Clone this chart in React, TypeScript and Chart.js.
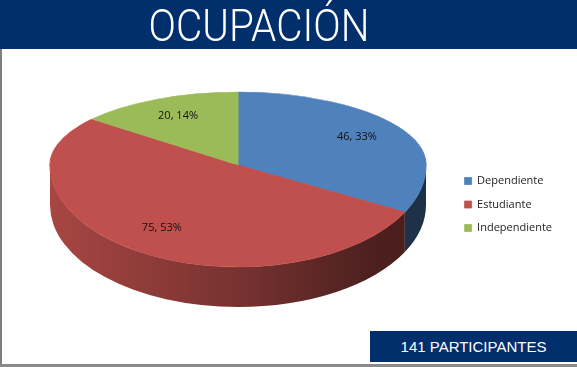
import { useEffect, useRef } from "react";
import { Chart, registerables } from "chart.js";

Chart.register(...registerables);

// ---- data ----
const categories = ["Dependiente", "Estudiante", "Independiente"];
const counts = [46, 75, 20];
const sliceColors = ["#4F81BD", "#C0504D", "#9BBB59"];
const titleText = "OCUPACIÓN";
const footerText = "141 PARTICIPANTES";

// ---- layout / style ----
const W = 577;
const H = 367;
const NAVY = "#002F6C";
const PIE = { cx: 238, cy: 165, rx: 188, ryTop: 73, ryBot: 102, depth: 40, labelR: 0.74 };
const LABEL_FONT = "11px 'Open Sans', 'DejaVu Sans', sans-serif";

function shade(hex: string, f: number): string {
  const n = parseInt(hex.slice(1), 16);
  const r = (n >> 16) & 255;
  const g = (n >> 8) & 255;
  const b = n & 255;
  return `rgb(${Math.round(r * f)},${Math.round(g * f)},${Math.round(b * f)})`;
}

const pie3d = {
  id: "pie3d",
  beforeDatasetsDraw(chart: any) {
    const meta = chart.getDatasetMeta(0);
    const arcs = meta.data;
    if (!arcs.length) return;
    const ctx: CanvasRenderingContext2D = chart.ctx;
    const { x: ox, y: oy, outerRadius: R } = arcs[0].getProps(["x", "y", "outerRadius"], true);

    // side (front half only)
    arcs.forEach((arc: any) => {
      const { startAngle: s, endAngle: e } = arc.getProps(["startAngle", "endAngle"], true);
      const color = arc.options.backgroundColor as string;
      const candidates = [
        [s, e],
        [s - 2 * Math.PI, e - 2 * Math.PI],
        [s + 2 * Math.PI, e + 2 * Math.PI],
      ];
      for (const [a, b] of candidates) {
        const lo = Math.max(a, 0);
        const hi = Math.min(b, Math.PI);
        if (hi <= lo) continue;
        const grad = ctx.createLinearGradient(PIE.cx - PIE.rx, 0, PIE.cx + PIE.rx, 0);
        grad.addColorStop(0, shade(color, 0.87));
        grad.addColorStop(0.5, shade(color, 0.62));
        grad.addColorStop(0.85, shade(color, 0.4));
        grad.addColorStop(1, shade(color, 0.37));
        ctx.save();
        ctx.beginPath();
        ctx.ellipse(PIE.cx, PIE.cy, PIE.rx, PIE.ryBot, 0, lo, hi, false);
        ctx.ellipse(PIE.cx, PIE.cy + PIE.depth, PIE.rx, PIE.ryBot, 0, hi, lo, true);
        ctx.closePath();
        ctx.fillStyle = grad;
        ctx.fill();
        ctx.restore();
      }
    });

    // top face: far half and near half with different vertical squash
    const halves = [
      { y0: 0, y1: PIE.cy + 0.5, ry: PIE.ryTop },
      { y0: PIE.cy - 0.5, y1: H, ry: PIE.ryBot },
    ];
    for (const h of halves) {
      ctx.save();
      ctx.beginPath();
      ctx.rect(0, h.y0, W, h.y1 - h.y0);
      ctx.clip();
      ctx.translate(PIE.cx, PIE.cy);
      ctx.scale(PIE.rx / R, h.ry / R);
      ctx.translate(-ox, -oy);
      arcs.forEach((arc: any) => arc.draw(ctx));
      ctx.restore();
    }
    return false;
  },
  afterDraw(chart: any) {
    const meta = chart.getDatasetMeta(0);
    const arcs = meta.data;
    if (!arcs.length) return;
    const ctx: CanvasRenderingContext2D = chart.ctx;
    const values: number[] = chart.data.datasets[0].data;
    const total = values.reduce((a, b) => a + b, 0);
    ctx.save();
    ctx.font = LABEL_FONT;
    ctx.fillStyle = "#111";
    ctx.textAlign = "center";
    ctx.textBaseline = "middle";
    arcs.forEach((arc: any, i: number) => {
      const { startAngle: s, endAngle: e } = arc.getProps(["startAngle", "endAngle"], true);
      const mid = (s + e) / 2;
      const u = Math.cos(mid) * PIE.labelR;
      const v = Math.sin(mid) * PIE.labelR;
      const x = PIE.cx + PIE.rx * u;
      const y = PIE.cy + (v < 0 ? PIE.ryTop : PIE.ryBot) * v;
      const pct = Math.round((values[i] / total) * 100);
      ctx.fillText(`${values[i]}, ${pct}%`, x, y);
    });
    ctx.restore();
  },
};

export default function App() {
  const canvasRef = useRef<HTMLCanvasElement | null>(null);

  useEffect(() => {
    if (!canvasRef.current) return;
    const chart = new Chart(canvasRef.current, {
      type: "pie",
      data: {
        labels: categories,
        datasets: [
          {
            data: counts,
            backgroundColor: sliceColors,
            borderColor: sliceColors,
            borderWidth: 0.8,
          },
        ],
      },
      options: {
        animation: false,
        responsive: true,
        maintainAspectRatio: false,
        events: [],
        layout: { padding: { left: 20, right: 15, top: 60, bottom: 18 } },
        plugins: {
          tooltip: { enabled: false },
          legend: {
            position: "right",
            align: "center",
            labels: {
              boxWidth: 7,
              boxHeight: 7,
              padding: 12.5,
              color: "#222",
              font: { family: "'Open Sans', 'DejaVu Sans', sans-serif", size: 11 },
            },
          },
        },
      },
      plugins: [pie3d],
    });
    return () => chart.destroy();
  }, []);

  return (
    <div
      style={{
        position: "fixed",
        left: 0,
        top: 0,
        width: W,
        height: H,
        background: "#fff",
        overflow: "hidden",
      }}
    >
      <div style={{ position: "absolute", left: 0, top: 0, width: W, height: H }}>
        <canvas ref={canvasRef} />
      </div>
      <div
        style={{
          position: "absolute",
          left: 0,
          top: 0,
          width: W,
          height: 49,
          background: NAVY,
        }}
      >
        <div
          style={{
            position: "absolute",
            left: 259,
            top: 1,
            transform: "translateX(-50%) scaleX(0.92)",
            color: "#fff",
            fontFamily: "Roboto, 'DejaVu Sans', sans-serif",
            fontWeight: 300,
            fontSize: 44,
            lineHeight: "50px",
            whiteSpace: "nowrap",
          }}
        >
          {titleText}
        </div>
      </div>
      <div
        style={{
          position: "absolute",
          left: 0,
          top: 49,
          width: 2,
          height: H - 49,
          background: "#808080",
        }}
      />
      <div
        style={{
          position: "absolute",
          left: 0,
          top: 364,
          width: W,
          height: 3,
          background: "#8a8a8a",
        }}
      />
      <div
        style={{
          position: "absolute",
          left: 370,
          top: 331,
          width: 207,
          height: 31,
          background: NAVY,
          color: "#fff",
          fontFamily: "'Liberation Sans', Arial, sans-serif",
          fontSize: 15,
          lineHeight: "31px",
          textAlign: "center",
          whiteSpace: "nowrap",
        }}
      >
        {footerText}
      </div>
    </div>
  );
}
